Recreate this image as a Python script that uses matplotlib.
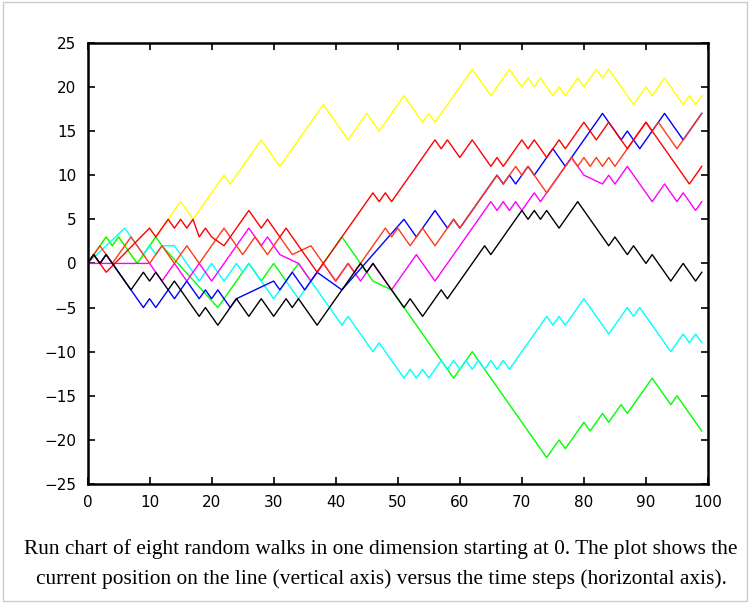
import matplotlib
matplotlib.use("Agg")
import matplotlib.pyplot as plt
from matplotlib.patches import Rectangle

# turning points (step, position) of the eight walks
yellow_t = [0, 3, 4, 5, 8, 15, 17, 22, 23, 28, 31, 38, 42, 45, 47, 51, 54, 55, 56, 62, 65, 68, 70, 71, 72, 73, 75, 76, 77, 79, 80, 82, 83, 84, 88, 90, 91, 93, 96, 97, 98, 99]
yellow_y = [0, 3, 2, 3, 0, 7, 5, 10, 9, 14, 11, 18, 14, 17, 15, 19, 16, 17, 16, 22, 19, 22, 20, 21, 20, 21, 19, 20, 19, 21, 20, 22, 21, 22, 18, 20, 19, 21, 18, 19, 18, 19]

green_t = [0, 3, 4, 5, 8, 11, 12, 21, 26, 28, 30, 32, 34, 36, 38, 41, 46, 49, 59, 62, 74, 76, 77, 80, 81, 83, 84, 86, 87, 91, 94, 95, 99]
green_y = [0, 3, 2, 3, 0, 3, 2, -5, 0, -2, 0, -2, 0, -2, 0, 3, -2, -3, -13, -10, -22, -20, -21, -18, -19, -17, -18, -16, -17, -13, -16, -15, -19]

blue_t = [0, 1, 2, 3, 4, 9, 10, 11, 13, 14, 16, 18, 19, 20, 21, 23, 24, 30, 31, 33, 35, 37, 41, 51, 53, 56, 58, 59, 60, 66, 67, 68, 69, 71, 72, 75, 77, 83, 86, 87, 89, 93, 96, 99]
blue_y = [0, 1, 0, 1, 0, -5, -4, -5, -3, -4, -2, -4, -3, -4, -3, -5, -4, -2, -3, -1, -3, -1, -3, 5, 3, 6, 4, 5, 4, 10, 9, 10, 9, 11, 10, 13, 11, 17, 14, 15, 13, 17, 14, 17]

black_t = [0, 1, 2, 3, 7, 9, 10, 11, 13, 14, 18, 19, 21, 24, 26, 28, 30, 32, 33, 34, 37, 44, 45, 46, 51, 52, 54, 57, 58, 64, 65, 70, 71, 72, 73, 74, 76, 79, 84, 85, 87, 88, 90, 91, 94, 96, 98, 99]
black_y = [0, 1, 0, 1, -3, -1, -2, -1, -3, -2, -6, -5, -7, -4, -6, -4, -6, -4, -5, -4, -7, 0, -1, 0, -5, -4, -6, -3, -4, 2, 1, 6, 5, 6, 5, 6, 4, 7, 2, 3, 1, 2, 0, 1, -2, 0, -2, -1]

cyan_t = [0, 6, 9, 10, 11, 12, 14, 18, 20, 22, 24, 25, 26, 30, 32, 34, 36, 38, 41, 42, 46, 47, 51, 52, 53, 54, 55, 57, 58, 59, 60, 61, 62, 63, 64, 65, 66, 67, 68, 74, 75, 76, 77, 80, 84, 87, 88, 89, 94, 96, 97, 98, 99]
cyan_y = [0, 4, 1, 2, 1, 2, 2, -2, 0, -2, 0, -1, 0, -4, -2, -4, -2, -4, -7, -6, -10, -9, -13, -12, -13, -12, -13, -11, -12, -11, -12, -11, -12, -11, -12, -11, -12, -11, -12, -6, -7, -6, -7, -4, -8, -5, -6, -5, -10, -8, -9, -8, -9]

magenta_t = [0, 8, 10, 12, 14, 16, 18, 20, 26, 28, 29, 31, 34, 36, 38, 40, 42, 44, 46, 47, 49, 53, 56, 65, 66, 67, 68, 69, 70, 72, 73, 78, 80, 83, 84, 85, 87, 91, 93, 95, 96, 98, 99]
magenta_y = [0, 0, 0, -2, 0, -2, 0, -2, 4, 2, 3, 1, 0, -2, 0, -2, 0, -2, 0, -1, -3, 1, -2, 7, 6, 7, 6, 7, 6, 8, 7, 12, 10, 9, 10, 9, 11, 7, 9, 7, 8, 6, 7]

red_t = [0, 1, 2, 3, 10, 11, 13, 14, 15, 16, 17, 18, 19, 20, 22, 26, 28, 29, 31, 32, 37, 46, 47, 48, 49, 56, 57, 58, 60, 62, 65, 66, 67, 70, 71, 72, 74, 76, 77, 80, 82, 84, 87, 90, 97, 99]
red_y = [0, 1, 0, -1, 4, 3, 5, 4, 5, 4, 5, 3, 4, 3, 2, 6, 4, 5, 3, 4, -1, 8, 7, 8, 7, 14, 13, 14, 12, 14, 11, 12, 11, 14, 13, 14, 12, 14, 13, 16, 14, 16, 13, 16, 9, 11]

orange_t = [0, 2, 4, 7, 10, 12, 14, 16, 18, 22, 25, 27, 29, 31, 33, 36, 40, 42, 43, 46, 48, 49, 50, 52, 54, 56, 58, 59, 60, 65, 66, 67, 68, 69, 70, 71, 74, 78, 79, 80, 81, 82, 83, 84, 85, 90, 91, 92, 95, 99]
orange_y = [0, 2, 0, 3, 0, 2, 0, 2, 0, 4, 1, 3, 1, 3, 1, 2, -2, 0, -1, 2, 4, 3, 4, 2, 4, 2, 4, 5, 4, 9, 10, 9, 10, 11, 10, 11, 8, 12, 11, 12, 11, 12, 11, 12, 11, 16, 15, 16, 13, 17]

walks = [
    (yellow_t, yellow_y, "#ffff00"),
    (green_t, green_y, "#00ff00"),
    (cyan_t, cyan_y, "#00ffff"),
    (magenta_t, magenta_y, "#ff00ff"),
    (blue_t, blue_y, "#0000ff"),
    (orange_t, orange_y, "#ff3a1a"),
    (red_t, red_y, "#ff0000"),
    (black_t, black_y, "#000000"),
]

caption = ("Run chart of eight random walks in one dimension starting at 0. The plot shows the\n"
           "current position on the line (vertical axis) versus the time steps (horizontal axis).")

fig = plt.figure(figsize=(7.5, 6.03), dpi=100)
fig.patches.append(Rectangle((0.004, 0.004), 0.992, 0.992, transform=fig.transFigure,
                             fill=False, edgecolor="#c8ccd1", linewidth=1))
ax = fig.add_axes([0.1167, 0.1973, 0.8273, 0.7317])

for t, y, c in walks:
    ax.plot(t, y, color=c, linewidth=1.0)

ax.set_xlim(0, 100)
ax.set_ylim(-25, 25)
ax.set_xticks(range(0, 101, 10))
ax.set_yticks(range(-25, 26, 5))
ax.tick_params(direction="in", length=5, width=1.2, top=True, right=True,
               labelsize=11, pad=8)
for s in ax.spines.values():
    s.set_linewidth(1.8)

fig.text(0.508, 0.065, caption, ha="center", va="center", fontsize=15.4,
         family="Liberation Serif", linespacing=1.7)

fig.savefig("out.png", dpi=100)
